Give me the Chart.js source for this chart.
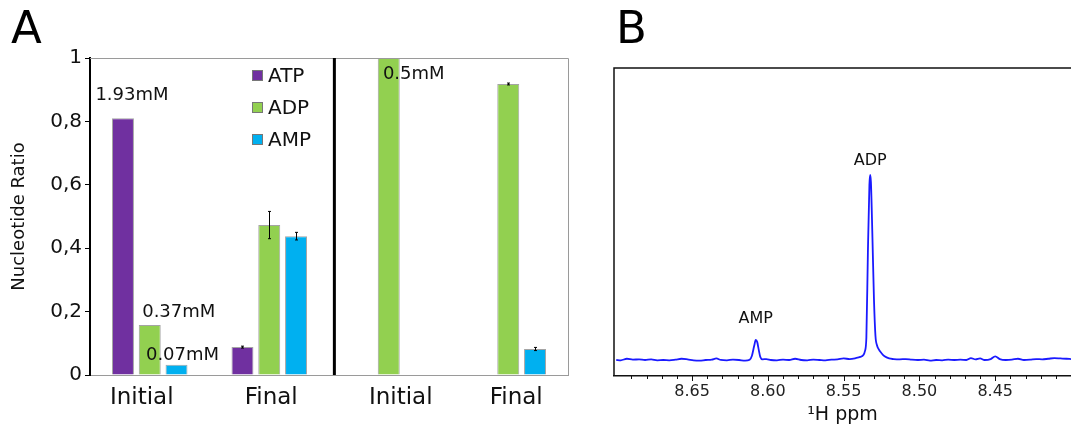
<!DOCTYPE html>
<html><head><meta charset="utf-8">
<script src="https://cdn.jsdelivr.net/npm/chart.js@4"></script>
<style>
html,body{margin:0;padding:0;background:#fff;width:1071px;height:430px;overflow:hidden;position:relative;font-family:'DejaVu Sans';}
#ca{position:absolute;left:0;top:0;}
#cb{position:absolute;left:600px;top:0;}
.lbl{position:absolute;font-family:'DejaVu Sans';font-size:45px;color:#000;line-height:1;}
</style></head><body>
<canvas id="ca" width="600" height="430"></canvas>
<canvas id="cb" width="477" height="430"></canvas>
<div class="lbl" style="left:11px;top:5px">A</div>
<div class="lbl" style="left:616px;top:5px">B</div>
<script>
// ---------- Panel A data ----------
const categories = ['Initial', 'Final', 'Initial', 'Final'];
const seriesNames = ['ATP', 'ADP', 'AMP'];
const atpValues = [0.81, 0.088, null, null];
const adpValues = [0.158, 0.473, 1.0, 0.918];
const ampValues = [0.032, 0.438, null, 0.082];
const atpErrors = [0, 0.003, null, null];
const adpErrors = [0, 0.043, 0, 0.003];
const ampErrors = [0, 0.012, null, 0.005];
const yTickLabels = ['0', '0,2', '0,4', '0,6', '0,8', '1'];
const concLabels = ['1.93mM', '0.37mM', '0.07mM', '0.5mM'];
const concSeries = [0, 1, 2, 1];
const concCategory = [0, 0, 0, 2];

// ---------- Panel B data ----------
const ppmTickLabels = ['8.65', '8.60', '8.55', '8.50', '8.45'];
const peakNames = ['ADP', 'AMP'];
const peakPpm = [8.5325, 8.608];
const spectrumPpm = [8.700,8.697,8.693,8.689,8.685,8.681,8.677,8.673,8.669,8.665,8.661,8.657,8.653,8.649,8.645,8.641,8.637,8.634,8.631,8.627,8.623,8.619,8.615,8.612,8.6105,8.609,8.608,8.607,8.606,8.605,8.6035,8.601,8.598,8.594,8.590,8.586,8.582,8.578,8.574,8.570,8.566,8.562,8.558,8.554,8.550,8.546,8.542,8.539,8.537,8.536,8.535,8.534,8.533,8.5325,8.532,8.531,8.530,8.529,8.528,8.527,8.525,8.523,8.520,8.517,8.513,8.509,8.505,8.501,8.497,8.493,8.489,8.485,8.481,8.477,8.473,8.469,8.466,8.463,8.460,8.457,8.453,8.450,8.447,8.443,8.439,8.435,8.431,8.427,8.423,8.419,8.415,8.411,8.407,8.403,8.400];
const spectrumIntensity = [0.052,0.051,0.056,0.053,0.054,0.052,0.054,0.051,0.052,0.051,0.053,0.056,0.054,0.051,0.050,0.052,0.053,0.057,0.052,0.051,0.053,0.052,0.050,0.053,0.066,0.098,0.117,0.110,0.085,0.062,0.054,0.055,0.052,0.051,0.053,0.052,0.056,0.052,0.051,0.053,0.052,0.051,0.053,0.054,0.057,0.055,0.058,0.062,0.068,0.080,0.125,0.40,0.62,0.653,0.63,0.45,0.25,0.13,0.100,0.088,0.074,0.064,0.057,0.055,0.054,0.055,0.053,0.052,0.053,0.050,0.052,0.051,0.053,0.052,0.053,0.052,0.058,0.054,0.057,0.052,0.055,0.064,0.055,0.052,0.053,0.056,0.052,0.053,0.055,0.054,0.056,0.058,0.057,0.056,0.055];

// ---------- styles ----------
const seriesColors = ['#7030A0', '#92D050', '#00B0F0'];
const concOffsets = [[9, -23], [29, -13], [6, -10], [25, 16]];
const categoryLabelShift = [-8, 2, 12, 8];
const peakLabelGap = [14, 21];
const FONT = "'DejaVu Sans'";

Chart.defaults.font.family = FONT;
Chart.defaults.color = '#111';

const panelAPlugin = {
  id: 'panelA',
  afterDatasetsDraw(chart) {
    const {ctx, chartArea: a, scales: {x, y}} = chart;
    ctx.save();
    // gray frame (top, right)
    ctx.strokeStyle = '#9a9a9a'; ctx.lineWidth = 1;
    ctx.beginPath();
    ctx.moveTo(a.left, Math.round(a.top) + 0.5);
    ctx.lineTo(Math.round(a.right) + 0.5, Math.round(a.top) + 0.5);
    ctx.lineTo(Math.round(a.right) + 0.5, a.bottom);
    ctx.stroke();
    // error bars
    const errs = [atpErrors, adpErrors, ampErrors];
    ctx.strokeStyle = '#000'; ctx.lineWidth = 1;
    chart.data.datasets.forEach((ds, di) => {
      const meta = chart.getDatasetMeta(di);
      meta.data.forEach((bar, i) => {
        const v = ds.data[i], e = errs[di][i];
        if (v == null || !e) return;
        const yt = y.getPixelForValue(v + e), yb = y.getPixelForValue(v - e);
        const cx = Math.round(bar.x) + 0.5;
        ctx.beginPath();
        ctx.moveTo(cx, yt); ctx.lineTo(cx, yb);
        ctx.moveTo(cx - 1.5, yt); ctx.lineTo(cx + 1.5, yt);
        ctx.moveTo(cx - 1.5, yb); ctx.lineTo(cx + 1.5, yb);
        ctx.stroke();
      });
    });
    // separator between experiments
    const step = x.getPixelForValue(1) - x.getPixelForValue(0);
    const sx = (x.getPixelForValue(1) + x.getPixelForValue(2)) / 2 + step * 0.045;
    ctx.strokeStyle = '#000'; ctx.lineWidth = 3;
    ctx.beginPath(); ctx.moveTo(sx, a.top); ctx.lineTo(sx, a.bottom); ctx.stroke();
    // category labels
    ctx.fillStyle = '#111';
    ctx.font = `23px ${FONT}`;
    ctx.textAlign = 'center'; ctx.textBaseline = 'middle';
    categories.forEach((c, i) => {
      ctx.fillText(c, x.getPixelForValue(i) + categoryLabelShift[i], a.bottom + 23);
    });
    // concentration labels
    ctx.font = `18px ${FONT}`;
    concLabels.forEach((t, k) => {
      const bar = chart.getDatasetMeta(concSeries[k]).data[concCategory[k]];
      ctx.fillText(t, bar.x + concOffsets[k][0], bar.y + concOffsets[k][1]);
    });
    // legend
    ctx.font = `20px ${FONT}`;
    ctx.textAlign = 'left';
    chart.data.datasets.forEach((ds, di) => {
      const cy = 76 + di * 32;
      ctx.fillStyle = ds.backgroundColor;
      ctx.fillRect(252, cy - 6, 11, 11);
      ctx.strokeStyle = '#777'; ctx.lineWidth = 1;
      ctx.strokeRect(252.5, cy - 5.5, 10, 10);
      ctx.fillStyle = '#111';
      ctx.fillText(ds.label, 268, cy + 1);
    });
    ctx.restore();
  }
};

new Chart(document.getElementById('ca'), {
  type: 'bar',
  data: {
    labels: categories,
    datasets: [atpValues, adpValues, ampValues].map((d, i) => ({
      label: seriesNames[i], data: d,
      backgroundColor: seriesColors[i],
      borderColor: 'rgba(90,90,90,0.55)', borderWidth: 1,
      categoryPercentage: 0.672, barPercentage: 0.82
    }))
  },
  options: {
    responsive: false, animation: false, devicePixelRatio: 1,
    layout: {padding: {left: 0, top: 58, right: 32, bottom: 0}},
    plugins: {legend: {display: false}, tooltip: {enabled: false}},
    scales: {
      x: {
        grid: {display: true, drawOnChartArea: false, drawTicks: false},
        border: {display: true, color: '#9a9a9a', width: 1},
        ticks: {display: true, font: {size: 23}, color: 'rgba(0,0,0,0)', padding: 12, maxRotation: 0},
        afterFit(s) { s.height = 55; }
      },
      y: {
        min: 0, max: 1,
        grid: {drawOnChartArea: false, drawTicks: true, tickLength: 5, tickColor: '#000'},
        border: {display: true, color: '#000', width: 2},
        ticks: {stepSize: 0.2, font: {size: 20}, color: '#111', padding: 3,
          callback: v => yTickLabels[Math.round(v / 0.2)]},
        title: {display: true, text: 'Nucleotide Ratio', font: {size: 18}, color: '#111', padding: {top: 9, bottom: 0}},
        afterFit(s) { s.width = 90; }
      }
    }
  },
  plugins: [panelAPlugin]
});

// ---------- Panel B ----------
const panelBPlugin = {
  id: 'panelB',
  afterDraw(chart) {
    const {ctx, chartArea: a, scales: {x, y}} = chart;
    ctx.save();
    ctx.strokeStyle = '#111'; ctx.lineWidth = 1.5;
    ctx.beginPath();
    ctx.moveTo(a.left, a.bottom); ctx.lineTo(a.left, a.top); ctx.lineTo(a.right, a.top);
    ctx.stroke();
    // ticks
    ctx.lineWidth = 1;
    x.ticks.forEach(t => {
      if (Math.abs(t.value * 100 - Math.round(t.value * 100)) > 1e-6) return;
      const px = Math.round(x.getPixelForValue(t.value)) + 0.5;
      const major = ppmTickLabels.some(l => Math.abs(parseFloat(l) - t.value) < 1e-6);
      ctx.beginPath(); ctx.moveTo(px, a.bottom); ctx.lineTo(px, a.bottom + (major ? 5 : 3)); ctx.stroke();
    });
    // peak labels
    ctx.fillStyle = '#111';
    ctx.font = `16px ${FONT}`;
    ctx.textAlign = 'center'; ctx.textBaseline = 'middle';
    peakNames.forEach((n, k) => {
      let best = 0;
      spectrumPpm.forEach((p, i) => { if (Math.abs(p - peakPpm[k]) < 0.004) best = Math.max(best, spectrumIntensity[i]); });
      ctx.fillText(n, x.getPixelForValue(peakPpm[k]), y.getPixelForValue(best) - peakLabelGap[k]);
    });
    ctx.restore();
  }
};

new Chart(document.getElementById('cb'), {
  type: 'line',
  data: {
    datasets: [{
      data: spectrumPpm.map((p, i) => ({x: p, y: spectrumIntensity[i]})),
      borderColor: '#1a1aff', borderWidth: 1.8, pointRadius: 0,
      cubicInterpolationMode: 'monotone', fill: false
    }]
  },
  options: {
    responsive: false, animation: false, devicePixelRatio: 1,
    layout: {padding: {left: 14, top: 68, right: 0, bottom: 0}},
    plugins: {legend: {display: false}, tooltip: {enabled: false}},
    scales: {
      x: {
        type: 'linear', reverse: true, min: 8.40, max: 8.7015,
        grid: {display: true, drawOnChartArea: false, drawTicks: false},
        border: {display: true, color: '#111', width: 1.5},
        ticks: {stepSize: 0.01, autoSkip: false, maxRotation: 0, font: {size: 16}, color: '#222', padding: 6,
          callback: v => { const l = ppmTickLabels.find(s => Math.abs(parseFloat(s) - v) < 1e-6); return l === undefined ? '' : l; }},
        title: {display: true, text: '¹H ppm', font: {size: 19}, color: '#111', padding: {top: 0, bottom: 4}},
        afterFit(s) { s.height = 54; }
      },
      y: {display: false, min: 0, max: 1}
    }
  },
  plugins: [panelBPlugin]
});
</script>
</body></html>
